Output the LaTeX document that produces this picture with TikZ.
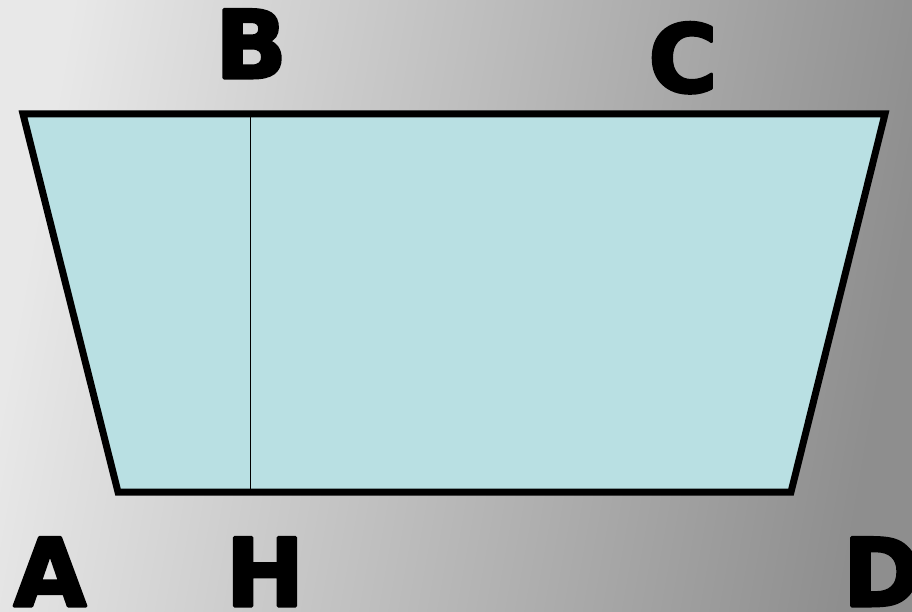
\documentclass[tikz,border=0pt]{standalone}
\usepackage{fontspec}
\newfontfamily\labelfont{DejaVu Sans}
\definecolor{trapfill}{HTML}{B9E0E3}
\definecolor{bgleft}{HTML}{E8E8E8}
\definecolor{bgright}{HTML}{8E8E8E}
\newcommand{\heavytext}[1]{\special{pdf:literal direct 2 Tr 3 w 0 G 1 j}#1\special{pdf:literal direct 0 Tr}}
\tikzset{
  pt/.style={font=\labelfont\bfseries\fontsize{94}{94}\selectfont, text=black, inner sep=0pt, anchor=base},
  border/.style={draw=black, line width=7pt, line join=miter, fill=trapfill},
  heightline/.style={draw=black, line width=1.5pt}
}
\begin{document}
\begin{tikzpicture}[x=1pt,y=-1pt]
\useasboundingbox (0,0) rectangle (912,612);
\clip (0,0) rectangle (912,612);
\shade[left color=bgleft, right color=bgright, shading angle=80] (0,0) rectangle (912,612);
\coordinate (A) at (118,492);
\coordinate (B) at (23,114);
\coordinate (C) at (885,114);
\coordinate (D) at (791,492);
\coordinate (Bt) at (250.5,117);
\coordinate (H) at (250.5,489);
\path[border] (A) -- (B) -- (C) -- (D) -- cycle;
\draw[heightline] (Bt) -- (H);
\node[pt] (lB) at (251,78) {\heavytext{B}};
\node[pt] (lC) at (683,92) {\heavytext{C}};
\node[pt] (lA) at (50,606) {\heavytext{A}};
\node[pt] (lH) at (265,606) {\heavytext{H}};
\node[pt] (lD) at (882,606) {\heavytext{D}};
\end{tikzpicture}
\end{document}
